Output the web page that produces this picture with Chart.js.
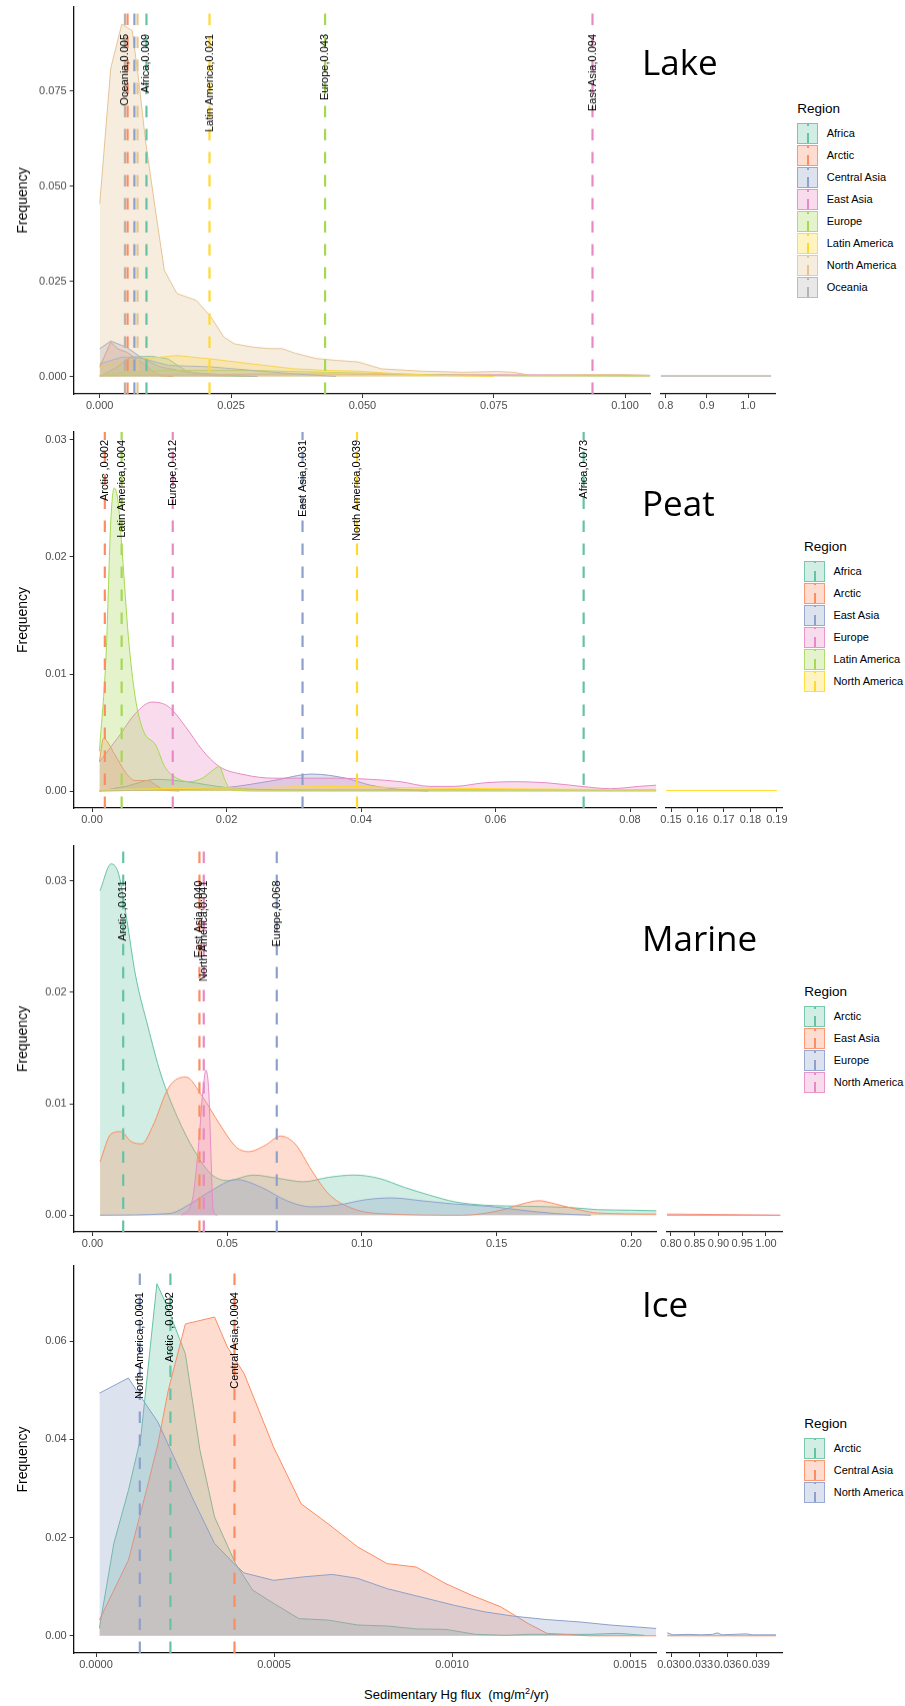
<!DOCTYPE html>
<html>
<head>
<meta charset="utf-8">
<script src="https://cdn.jsdelivr.net/npm/chart.js@4.4.1/dist/chart.umd.min.js"></script>
<style>
  html, body { margin: 0; padding: 0; background: #fff; }
  body { position: relative; width: 905px; height: 1706px; overflow: hidden;
         font-family: "Liberation Sans", Arial, sans-serif; }
  .cv { position: absolute; }
  .ptitle { position: absolute; font-family: "Open Sans", "Noto Sans", sans-serif;
            font-size: 35px; line-height: 35px; color: #000; white-space: nowrap; }
  .lgTitle { position: absolute; font-size: 13.5px; color: #000; line-height: 16px; }
  .lgKey { position: absolute; width: 19px; height: 19px; box-sizing: content-box; }
  .lgKey .seg { position: absolute; left: 8.5px; width: 2px; }
  .lgLabel { position: absolute; font-size: 11px; color: #000; line-height: 13px; white-space: nowrap; }
  .xTitle { position: absolute; font-size: 13px; color: #000; white-space: pre; line-height: 16px; }
  .xTitle sup { font-size: 9px; vertical-align: 5px; line-height: 0; }
</style>
</head>
<body>
<script>
// ---------- Set2 palette ----------
const SET2 = ['#66C2A5', '#FC8D62', '#8DA0CB', '#E78AC3', '#A6D854', '#FFD92F', '#E5C494', '#B3B3B3'];

// ---------- Lake ----------
const lakeRegions = ['Africa', 'Arctic', 'Central Asia', 'East Asia', 'Europe', 'Latin America', 'North America', 'Oceania'];
const lakeMeans = [0.0089, 0.0053, 0.0066, 0.0938, 0.0429, 0.0209, 0.0072, 0.0048];
const lakeMeanShown = [true, false, false, true, true, true, false, true];
const lakeLabelNames = ['Africa', 'Arctic', 'Central Asia', 'East Asia', 'Europe', 'Latin America', 'North America', 'Oceania'];
const lakeXTicks = ['0.000', '0.025', '0.050', '0.075', '0.100'];
const lakeYTicks = ['0.000', '0.025', '0.050', '0.075'];
const lakeTailTicks = ['0.8', '0.9', '1.0'];

const lakeAfrica = [[0, 0], [0.003, 0.0022], [0.0059, 0.0051], [0.0099, 0.0053], [0.013, 0.0046], [0.0163, 0.0016], [0.0195, 0.0003], [0.03, 0]];
const lakeArctic = [[0, 0.0025], [0.0021, 0.009], [0.0035, 0.0072], [0.0051, 0.0064], [0.0075, 0.0042], [0.0099, 0.0016], [0.0115, 0.0002], [0.014, 0]];
const lakeCentralAsia = [[0, 0.0073], [0.0021, 0.0093], [0.0051, 0.0077], [0.0083, 0.0046], [0.0115, 0.0025], [0.017, 0.0011], [0.025, 0.0003], [0.03, 0]];
const lakeEastAsia = [[0, 0.0002], [0.02, 0.0005], [0.037, 0.0007], [0.06, 0.0005], [0.09, 0.0004], [0.1048, 0.0003]];
const lakeEurope = [[0, 0.0003], [0.006, 0.0012], [0.012, 0.0016], [0.02, 0.0016], [0.029, 0.0016], [0.04, 0.0012], [0.053, 0.0008], [0.065, 0.0004], [0.08, 0.0002], [0.1048, 0.0001]];
const lakeLatinAmerica = [[0, 0.0025], [0.0051, 0.0042], [0.0147, 0.0055], [0.0212, 0.0046], [0.029, 0.0033], [0.037, 0.002], [0.043, 0.0016], [0.049, 0.0014], [0.057, 0.0007], [0.065, 0.0003], [0.075, 0]];
const lakeNorthAmerica = [[0, 0.0453], [0.0021, 0.081], [0.0042, 0.0926], [0.0062, 0.0909], [0.0075, 0.077], [0.0087, 0.0621], [0.0107, 0.0428], [0.0123, 0.0279], [0.0147, 0.0218], [0.0184, 0.02], [0.0212, 0.0156], [0.0236, 0.0104], [0.0256, 0.0086], [0.0292, 0.0077], [0.0324, 0.0073], [0.0348, 0.0073], [0.0372, 0.0061], [0.0412, 0.0047], [0.0452, 0.0042], [0.0492, 0.0038], [0.0536, 0.002], [0.0612, 0.0014], [0.0692, 0.0011], [0.0756, 0.0013], [0.0788, 0.0011], [0.0821, 0.0003], [0.0933, 0.0005], [0.0997, 0.0005], [0.1048, 0.0003]];
const lakeOceania = [[0, 0.0033], [0.0043, 0.0051], [0.008, 0.0048], [0.0131, 0.0029], [0.0212, 0.0025], [0.029, 0.0016], [0.037, 0.0007], [0.045, 0]];
const lakeTailNorthAmerica = [[0.7878, 0.0002], [1.056, 0.0002]];
const lakeTailOceania = [[0.7878, 0.0001], [1.056, 0.0001]];

// ---------- Peat ----------
const peatRegions = ['Africa', 'Arctic', 'East Asia', 'Europe', 'Latin America', 'North America'];
const peatMeans = [0.0731, 0.0019, 0.0313, 0.0120, 0.0044, 0.0394];
const peatMeanShown = [true, true, true, true, true, true];
const peatLabelNames = ['Africa', 'Arctic ', 'East Asia', 'Europe', 'Latin America', 'North America'];
const peatXTicks = ['0.00', '0.02', '0.04', '0.06', '0.08'];
const peatYTicks = ['0.00', '0.01', '0.02', '0.03'];
const peatTailTicks = ['0.15', '0.16', '0.17', '0.18', '0.19'];

const peatAfrica = [[0.0011, 0], [0.005, 0.0004], [0.0095, 0.001], [0.014, 0.0008], [0.02, 0.0003], [0.03, 0.0001], [0.05, 0.0001], [0.075, 0.0001], [0.0839, 0.0001]];
const peatArctic = [[0.0011, 0.0025], [0.0017, 0.0045], [0.0033, 0.0032], [0.0051, 0.0015], [0.0064, 0.0009], [0.0083, 0.0009], [0.0095, 0.0005], [0.0108, 0.0001], [0.013, 0]];
const peatEastAsia = [[0.0011, 0], [0.01, 0.0001], [0.02, 0.0003], [0.027, 0.0009], [0.0327, 0.00145], [0.0377, 0.0011], [0.0414, 0.0005], [0.0458, 0.00014], [0.05, 0]];
const peatEurope = [[0.0011, 0.0025], [0.0039, 0.0046], [0.0064, 0.0066], [0.0089, 0.0076], [0.0114, 0.0072], [0.0139, 0.0055], [0.0164, 0.0035], [0.0189, 0.0021], [0.0226, 0.0014], [0.027, 0.0011], [0.0314, 0.0011], [0.0364, 0.0011], [0.0414, 0.001], [0.0458, 0.0008], [0.0502, 0.0004], [0.0539, 0.0004], [0.0583, 0.0007], [0.0627, 0.0008], [0.0677, 0.0007], [0.0727, 0.0004], [0.0771, 0.0002], [0.0814, 0.0004], [0.0839, 0.0005]];
const peatLatinAmerica = [[0.0011, 0.0034], [0.0021, 0.0118], [0.0028, 0.0232], [0.0033, 0.0259], [0.0039, 0.0246], [0.0045, 0.0203], [0.0054, 0.0132], [0.0064, 0.0081], [0.0076, 0.0052], [0.0095, 0.0039], [0.0108, 0.0021], [0.0126, 0.0011], [0.0145, 0.0008], [0.0164, 0.0011], [0.018, 0.0018], [0.0189, 0.0021], [0.0198, 0.0009], [0.0206, 0.0001], [0.025, 0], [0.0839, 0]];
const peatNorthAmerica = [[0.0011, 0.0001], [0.01, 0.0002], [0.025, 0.0003], [0.038, 0.0004], [0.045, 0.0003], [0.06, 0.0002], [0.0839, 0.0001]];
const peatTailNorthAmerica = [[0.1481, 0.00004], [0.19, 0.00004]];

// ---------- Marine ----------
const marineRegions = ['Arctic', 'East Asia', 'Europe', 'North America'];
const marineMeans = [0.0114, 0.0397, 0.0684, 0.0413];
const marineMeanShown = [true, true, true, true];
const marineLabelNames = ['Arctic ', 'East Asia', 'Europe', 'North America'];
const marineXTicks = ['0.00', '0.05', '0.10', '0.15', '0.20'];
const marineYTicks = ['0.00', '0.01', '0.02', '0.03'];
const marineTailTicks = ['0.80', '0.85', '0.90', '0.95', '1.00'];

const marineArctic = [[0.0028, 0.0291], [0.0069, 0.0315], [0.0097, 0.0306], [0.0128, 0.0264], [0.0159, 0.0216], [0.0206, 0.0169], [0.0253, 0.0127], [0.0315, 0.0088], [0.0378, 0.0058], [0.044, 0.0037], [0.0502, 0.0031], [0.0596, 0.0036], [0.069, 0.0033], [0.0783, 0.003], [0.0877, 0.0034], [0.097, 0.0036], [0.1064, 0.0033], [0.1158, 0.0025], [0.1251, 0.0018], [0.1345, 0.0012], [0.1454, 0.0009], [0.161, 0.0008], [0.1766, 0.0007], [0.1875, 0.0005], [0.2, 0.00045], [0.2094, 0.0004]];
const marineEastAsia = [[0.0028, 0.0048], [0.0069, 0.0073], [0.0105, 0.0075], [0.0144, 0.0066], [0.0183, 0.0064], [0.0222, 0.0079], [0.0284, 0.0115], [0.0346, 0.0124], [0.0409, 0.0106], [0.0471, 0.0082], [0.0534, 0.0061], [0.058, 0.0057], [0.0643, 0.0063], [0.0697, 0.0071], [0.0752, 0.0064], [0.0814, 0.004], [0.0877, 0.0019], [0.0955, 0.0007], [0.1064, 0.00015], [0.1376, 0], [0.1516, 0.00045], [0.1594, 0.001], [0.1657, 0.0013], [0.1719, 0.001], [0.1813, 0.00045], [0.1875, 0.0002], [0.2094, 0.0001]];
const marineEurope = [[0.0028, 0], [0.0284, 0.00015], [0.0362, 0.001], [0.044, 0.0022], [0.0534, 0.0032], [0.0627, 0.0025], [0.0721, 0.0013], [0.0814, 0.00075], [0.0908, 0.0009], [0.1017, 0.0014], [0.1111, 0.00155], [0.122, 0.0013], [0.1345, 0.001], [0.147, 0.0008], [0.1594, 0.00045], [0.1719, 0.00015], [0.185, 0]];
const marineNorthAmerica = [[0.0331, 0], [0.037, 0.0013], [0.0393, 0.0061], [0.0409, 0.0109], [0.0421, 0.013], [0.0432, 0.0109], [0.044, 0.0052], [0.0448, 0.00045], [0.0463, 0]];
const marineTailEastAsia = [[0.791, 0.0001], [0.815, 0.0001], [1.03, 0]];
const marineTailNorthAmerica = [[0.791, 0], [1.03, 0]];

// ---------- Ice ----------
const iceRegions = ['Arctic', 'Central Asia', 'North America'];
const iceMeans = [0.000209, 0.000389, 0.000123];
const iceMeanShown = [true, true, true];
const iceLabelNames = ['Arctic  ', 'Central Asia', 'North America'];
const iceXTicks = ['0.0000', '0.0005', '0.0010', '0.0015'];
const iceYTicks = ['0.00', '0.02', '0.04', '0.06'];
const iceTailTicks = ['0.030', '0.033', '0.036', '0.039'];

const iceArctic = [[0.0000095, 0.0015], [0.00005, 0.0188], [0.000091, 0.0296], [0.000126, 0.0405], [0.000171, 0.0717], [0.000197, 0.0676], [0.000251, 0.0574], [0.000292, 0.0378], [0.000333, 0.0242], [0.000392, 0.0147], [0.00044, 0.0093], [0.000499, 0.0066], [0.00057, 0.0035], [0.000652, 0.0032], [0.000735, 0.0022], [0.000818, 0.002], [0.0009, 0.0014], [0.000983, 0.0013], [0.001066, 0.0003], [0.001149, 0.0001], [0.00122, 0.0003], [0.001385, 0.0003], [0.001468, 0.0005], [0.00154, 0.0001]];
const iceCentralAsia = [[0.0000095, 0.0032], [0.000091, 0.0154], [0.000144, 0.0303], [0.000174, 0.0391], [0.000203, 0.05], [0.000251, 0.0635], [0.000333, 0.0649], [0.000369, 0.0588], [0.000416, 0.0534], [0.000499, 0.0384], [0.000576, 0.0269], [0.000652, 0.0228], [0.000735, 0.0181], [0.000818, 0.0147], [0.0009, 0.014], [0.000983, 0.0106], [0.001054, 0.0083], [0.001137, 0.0059], [0.001214, 0.0025], [0.001267, 0.0005], [0.001385, 0], [0.001574, 0]];
const iceNorthAmerica = [[0.0000095, 0.0494], [0.000091, 0.0525], [0.00012, 0.0493], [0.000174, 0.0435], [0.000227, 0.0351], [0.000274, 0.0276], [0.000333, 0.0188], [0.000392, 0.0144], [0.000416, 0.0128], [0.000499, 0.0113], [0.000582, 0.012], [0.000664, 0.0125], [0.000735, 0.0117], [0.000818, 0.0096], [0.000913, 0.0079], [0.001007, 0.0062], [0.00109, 0.0049], [0.001173, 0.004], [0.001267, 0.0033], [0.001362, 0.0028], [0.001444, 0.0022], [0.001574, 0.0015]];
const iceTailCentralAsia = [[0.0296, 0], [0.0411, 0]];
const iceTailNorthAmerica = [[0.0296, 0.0006], [0.0302, 0.0002], [0.0318, 0.0003], [0.0332, 0.0002], [0.0344, 0.0003], [0.0349, 0.0006], [0.0354, 0.0002], [0.038, 0.0004], [0.0386, 0.0002], [0.0411, 0.0002]];

// ---------- helpers ----------
const TICK_FONT = { family: '"Liberation Sans", Arial, sans-serif', size: 11 };
const TICK_COLOR = '#4D4D4D';
const PAD_T = 20, PAD_R = 14, PAD_L = 12, X_AXIS_H = 30, Y_AXIS_W = 73.65;

function rgba(hex, a) {
  const n = parseInt(hex.slice(1), 16);
  return `rgba(${n >> 16},${(n >> 8) & 255},${n & 255},${a})`;
}

function toXY(pairs) { return pairs.map(p => ({ x: p[0], y: p[1] })); }

function densitySets(series, colors, smooth) {
  return series.map((s, i) => ({
    data: toXY(s),
    borderColor: colors[i],
    backgroundColor: rgba(colors[i], 0.3),
    borderWidth: 1,
    fill: 'origin',
    pointRadius: 0,
    tension: 0,
    cubicInterpolationMode: smooth ? 'monotone' : 'default',
    order: -i
  }));
}

// dashed mean lines with their rotated value labels
function meanLinesPlugin(lines, labelY) {
  return {
    id: 'meanLines',
    afterDatasetsDraw(chart) {
      const { ctx, chartArea } = chart;
      const xs = chart.scales.x, ys = chart.scales.y;
      ctx.save();
      ctx.beginPath();
      ctx.rect(chartArea.left, chartArea.top, chartArea.right - chartArea.left, chartArea.bottom - chartArea.top);
      ctx.clip();
      ctx.lineWidth = 2.2;
      ctx.setLineDash([11.5, 11.5]);
      lines.forEach(l => {
        const px = xs.getPixelForValue(l.value);
        ctx.strokeStyle = l.color;
        ctx.beginPath();
        ctx.moveTo(px, chartArea.bottom);
        ctx.lineTo(px, chartArea.top);
        ctx.stroke();
      });
      ctx.setLineDash([]);
      ctx.fillStyle = '#000';
      ctx.font = '11px "Liberation Sans", Arial, sans-serif';
      lines.forEach(l => {
        if (!l.text) return;
        const px = xs.getPixelForValue(l.value);
        const py = ys.getPixelForValue(labelY);
        ctx.save();
        ctx.translate(px, py);
        ctx.rotate(-Math.PI / 2);
        ctx.textAlign = 'right';
        ctx.textBaseline = 'middle';
        ctx.fillText(l.text, 0, 0);
        ctx.restore();
      });
      ctx.restore();
    }
  };
}

function xScale(min, max, ticks) {
  return {
    type: 'linear', min, max,
    afterBuildTicks: s => { s.ticks = ticks.map(t => ({ value: parseFloat(t) })); },
    afterFit: s => { s.height = X_AXIS_H; },
    ticks: { callback: (v, i) => ticks[i], font: TICK_FONT, color: TICK_COLOR, padding: 1, maxRotation: 0, autoSkip: false },
    grid: { display: true, drawOnChartArea: false, drawTicks: true, tickLength: 4, color: '#333', lineWidth: 1 },
    border: { display: true, color: '#111', width: 1.3 }
  };
}

function addCanvas(left, top, width, height) {
  const c = document.createElement('canvas');
  c.className = 'cv';
  c.style.left = left + 'px';
  c.style.top = top + 'px';
  c.style.width = width + 'px';
  c.style.height = height + 'px';
  c.width = width; c.height = height;
  document.body.appendChild(c);
  return c;
}

function addDiv(cls, left, top, html) {
  const d = document.createElement('div');
  d.className = cls;
  d.style.left = left + 'px';
  d.style.top = top + 'px';
  d.innerHTML = html;
  document.body.appendChild(d);
  return d;
}

function drawPanel(p) {
  const colors = SET2.slice(0, p.regions.length);
  const h = p.bottom - p.top + PAD_T + X_AXIS_H;

  // main segment
  const mainW = Math.ceil(p.mainRight) + PAD_R;
  const cMain = addCanvas(0, p.top - PAD_T, mainW, h);
  const lines = p.means.map((m, i) => ({
    value: m,
    color: colors[i],
    text: p.shown[i] ? `${p.labelNames[i]},${m.toFixed(p.digits)}` : null
  }));
  new Chart(cMain, {
    type: 'line',
    data: { datasets: densitySets(p.series, colors, p.smooth) },
    options: {
      animation: false, responsive: false, devicePixelRatio: 1,
      layout: { padding: { top: PAD_T, right: mainW - p.mainRight, left: 0, bottom: 0 } },
      plugins: { legend: { display: false }, tooltip: { enabled: false } },
      scales: {
        x: xScale(p.xRange[0], p.xRange[1], p.xTicks),
        y: {
          type: 'linear', min: p.yRange[0], max: p.yRange[1],
          afterBuildTicks: s => { s.ticks = p.yTicks.map(t => ({ value: parseFloat(t) })); },
          afterFit: s => { s.width = Y_AXIS_W; },
          ticks: { callback: (v, i) => p.yTicks[i], font: TICK_FONT, color: TICK_COLOR, padding: 3 },
          grid: { display: true, drawOnChartArea: false, drawTicks: true, tickLength: 4, color: '#333', lineWidth: 1 },
          border: { display: true, color: '#111', width: 1.3 },
          title: { display: true, text: 'Frequency', color: '#000',
                   font: { family: '"Liberation Sans", Arial, sans-serif', size: 14 },
                   padding: { top: 14.6, bottom: 0 } }
        }
      }
    },
    plugins: [meanLinesPlugin(lines, p.labelY)]
  });

  // tail segment of the broken axis
  const tailLeftCanvas = Math.floor(p.tailLeft) - PAD_L;
  const tailW = Math.ceil(p.tailRight) + PAD_R - tailLeftCanvas;
  const cTail = addCanvas(tailLeftCanvas, p.top - PAD_T, tailW, h);
  new Chart(cTail, {
    type: 'line',
    data: { datasets: densitySets(p.tails.map(t => t.data), p.tails.map(t => colors[t.idx]), false) },
    options: {
      animation: false, responsive: false, devicePixelRatio: 1,
      layout: { padding: { top: PAD_T, right: tailW - (p.tailRight - tailLeftCanvas), left: p.tailLeft - tailLeftCanvas, bottom: 0 } },
      plugins: { legend: { display: false }, tooltip: { enabled: false } },
      scales: {
        x: xScale(p.tailRange[0], p.tailRange[1], p.tailTicks),
        y: { type: 'linear', display: false, min: p.yRange[0], max: p.yRange[1] }
      }
    }
  });

  // panel title
  addDiv('ptitle', 642, p.titleBaseline - 31.1, p.title);

  // legend
  const lg = p.legend;
  addDiv('lgTitle', lg.x, lg.titleCy - 8, 'Region');
  p.regions.forEach((r, i) => {
    const top = lg.boxTop + i * 22;
    const key = addDiv('lgKey', lg.x, top, '');
    key.style.border = `1px solid ${rgba(colors[i], 0.85)}`;
    key.style.background = rgba(colors[i], 0.3);
    const seg1 = document.createElement('div');
    seg1.className = 'seg'; seg1.style.bottom = '0px'; seg1.style.height = '10px'; seg1.style.background = colors[i];
    const seg2 = document.createElement('div');
    seg2.className = 'seg'; seg2.style.top = '0px'; seg2.style.height = '1.5px'; seg2.style.background = colors[i];
    key.appendChild(seg1); key.appendChild(seg2);
    addDiv('lgLabel', lg.x + 29.4, top + 4, r);
  });
}

// ---------- panels ----------
drawPanel({
  title: 'Lake', titleBaseline: 75,
  top: 7, bottom: 393.5, mainRight: 650.3, tailLeft: 660.7, tailRight: 775.7,
  xRange: [-0.00496, 0.1048], yRange: [-0.0046, 0.0971], tailRange: [0.7878, 1.0673],
  xTicks: lakeXTicks, yTicks: lakeYTicks, tailTicks: lakeTailTicks,
  regions: lakeRegions, labelNames: lakeLabelNames, means: lakeMeans, shown: lakeMeanShown,
  digits: 3, labelY: 0.09, smooth: false,
  series: [lakeAfrica, lakeArctic, lakeCentralAsia, lakeEastAsia, lakeEurope, lakeLatinAmerica, lakeNorthAmerica, lakeOceania],
  tails: [{ data: lakeTailNorthAmerica, idx: 6 }, { data: lakeTailOceania, idx: 7 }],
  legend: { x: 797.3, titleCy: 109.3, boxTop: 123.3 }
});

drawPanel({
  title: 'Peat', titleBaseline: 516,
  top: 432, bottom: 808, mainRight: 656.6, tailLeft: 666, tailRight: 782.7,
  xRange: [-0.002735, 0.08395], yRange: [-0.00145, 0.03068], tailRange: [0.1481, 0.1922],
  xTicks: peatXTicks, yTicks: peatYTicks, tailTicks: peatTailTicks,
  regions: peatRegions, labelNames: peatLabelNames, means: peatMeans, shown: peatMeanShown,
  digits: 3, labelY: 0.03, smooth: true,
  series: [peatAfrica, peatArctic, peatEastAsia, peatEurope, peatLatinAmerica, peatNorthAmerica],
  tails: [{ data: peatTailNorthAmerica, idx: 5 }],
  legend: { x: 804, titleCy: 547.3, boxTop: 560.7 }
});

drawPanel({
  title: 'Marine', titleBaseline: 951,
  top: 846, bottom: 1231.7, mainRight: 656.6, tailLeft: 666.7, tailRight: 782.7,
  xRange: [-0.0070, 0.2094], yRange: [-0.0015, 0.0331], tailRange: [0.79095, 1.0352],
  xTicks: marineXTicks, yTicks: marineYTicks, tailTicks: marineTailTicks,
  regions: marineRegions, labelNames: marineLabelNames, means: marineMeans, shown: marineMeanShown,
  digits: 3, labelY: 0.03, smooth: true,
  series: [marineArctic, marineEastAsia, marineEurope, marineNorthAmerica],
  tails: [{ data: marineTailEastAsia, idx: 1 }, { data: marineTailNorthAmerica, idx: 3 }],
  legend: { x: 804.3, titleCy: 992.3, boxTop: 1006 }
});

drawPanel({
  title: 'Ice', titleBaseline: 1317,
  top: 1266, bottom: 1653, mainRight: 656.6, tailLeft: 666.7, tailRight: 782.7,
  xRange: [-0.0000628, 0.0015747], yRange: [-0.0035, 0.0753], tailRange: [0.029545, 0.041815],
  xTicks: iceXTicks, yTicks: iceYTicks, tailTicks: iceTailTicks,
  regions: iceRegions, labelNames: iceLabelNames, means: iceMeans, shown: iceMeanShown,
  digits: 4, labelY: 0.07, smooth: false,
  series: [iceArctic, iceCentralAsia, iceNorthAmerica],
  tails: [{ data: iceTailCentralAsia, idx: 1 }, { data: iceTailNorthAmerica, idx: 2 }],
  legend: { x: 804.3, titleCy: 1424.3, boxTop: 1437.7 }
});

// shared x-axis title
addDiv('xTitle', 364, 1687, 'Sedimentary Hg flux  (mg/m<sup>2</sup>/yr)');
</script>
</body>
</html>
